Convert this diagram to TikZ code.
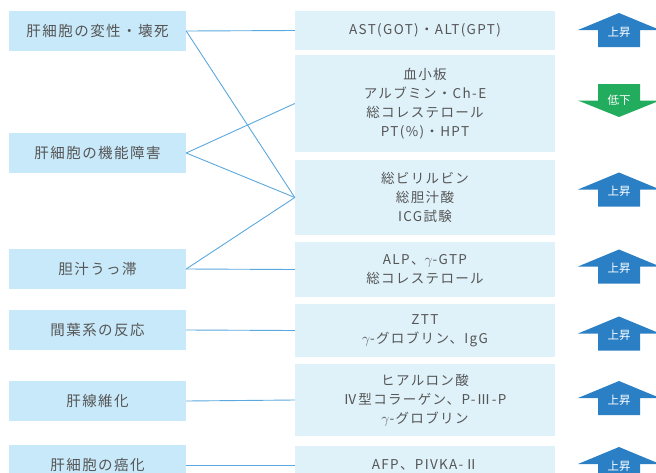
\documentclass[tikz,border=0pt]{standalone}
\usepackage{fontspec}
\setmainfont{Noto Sans CJK JP}
\newfontfamily\jpfont{Noto Sans CJK JP}
\newfontfamily\jpwide[LetterSpace=10]{Noto Sans CJK JP}
\definecolor{lbox}{HTML}{C8E9F9}
\definecolor{rbox}{HTML}{DFF2FA}
\definecolor{conn}{HTML}{5BA8DE}
\definecolor{upblue}{HTML}{2B80C5}
\definecolor{downgreen}{HTML}{22AC5E}
\definecolor{txt}{HTML}{555555}
\newcommand\gam{$\gamma$}
\begin{document}
\begin{tikzpicture}[x=1pt,y=-1pt,
  lnode/.style={fill=lbox, draw=none, minimum width=177pt, inner sep=0pt, text=txt,
    font=\jpwide\fontsize{14.5}{18}\selectfont},
  rnode/.style={fill=rbox, draw=none, minimum width=260pt, inner sep=0pt, text=txt, align=center,
    font=\jpwide\fontsize{13.5}{19}\selectfont},
  link/.style={draw=conn, line width=0.9pt},
  arrlabel/.style={text=white, font=\jpfont\fontsize{11.5}{13}\selectfont, inner sep=0pt},
  uparrow/.pic={
    \fill[upblue] (-21,17) -- (-21,0) -- (-41,0) -- (0,-17) -- (41,0) -- (21,0) -- (21,17) -- cycle;
    \node[arrlabel] (-label) at (0,2) {上昇};
  },
  downarrow/.pic={
    \fill[downgreen] (-21,-16.5) -- (-21,0) -- (-41,0) -- (0,16.5) -- (41,0) -- (21,0) -- (21,-16.5) -- cycle;
    \node[arrlabel] (-label) at (0,0) {低下};
  }
]
\useasboundingbox (0,0) rectangle (656,472);
\clip (0,0) rectangle (656,472);

% left boxes
\node[lnode, minimum height=40pt] (L1) at (97.5,31) {肝細胞の変性・壊死};
\node[lnode, minimum height=40pt] (L2) at (97.5,153) {肝細胞の機能障害};
\node[lnode, minimum height=40pt] (L3) at (97.5,269) {胆汁うっ滞};
\node[lnode, minimum height=40pt] (L4) at (97.5,330) {間葉系の反応};
\node[lnode, minimum height=40pt] (L5) at (97.5,401) {肝線維化};
\node[lnode, minimum height=40pt] (L6) at (97.5,465) {肝細胞の癌化};

% right boxes
\node[rnode, minimum height=39pt] (R1) at (425,30.5) {AST(GOT)・ALT(GPT)};
\node[rnode, minimum height=97pt] (R2) at (425,103.5) {血小板\\アルブミン・Ch-E\\総コレステロール\\PT(\%)・HPT};
\node[rnode, minimum height=75pt] (R3) at (425,197.5) {総ビリルビン\\総胆汁酸\\ICG試験};
\node[rnode, minimum height=55pt] (R4) at (425,269.5) {ALP、\gam-GTP\\総コレステロール};
\node[rnode, minimum height=53pt] (R5) at (425,330.5) {ZTT\\\gam-グロブリン、IgG};
\node[rnode, minimum height=72pt] (R6) at (425,400) {ヒアルロン酸\\Ⅳ型コラーゲン、P-Ⅲ-P\\\gam-グロブリン};
\node[rnode, minimum height=38pt] (R7) at (425,465) {AFP、PIVKA-Ⅱ};

% connectors
\draw[link] (L1.east) -- (R1.west);
\draw[link] (L1.east) -- (R3.west);
\draw[link] (L2.east) -- (R2.west);
\draw[link] (L2.east) -- (R3.west);
\draw[link] (L3.east) -- (R3.west);
\draw[link] (L3.east) -- (R4.west);
\draw[link] (L4.east) -- (R5.west);
\draw[link] (L5.east) -- (R6.west);
\draw[link] (L6.east) -- (R7.west);

% arrows
\pic (A1) at (619,30) {uparrow};
\pic (A2) at (619,100.5) {downarrow};
\pic (A3) at (619,189.5) {uparrow};
\pic (A4) at (619,266.5) {uparrow};
\pic (A5) at (619,333.5) {uparrow};
\pic (A6) at (619,398) {uparrow};
\pic (A7) at (619,464) {uparrow};
\end{tikzpicture}
\end{document}
